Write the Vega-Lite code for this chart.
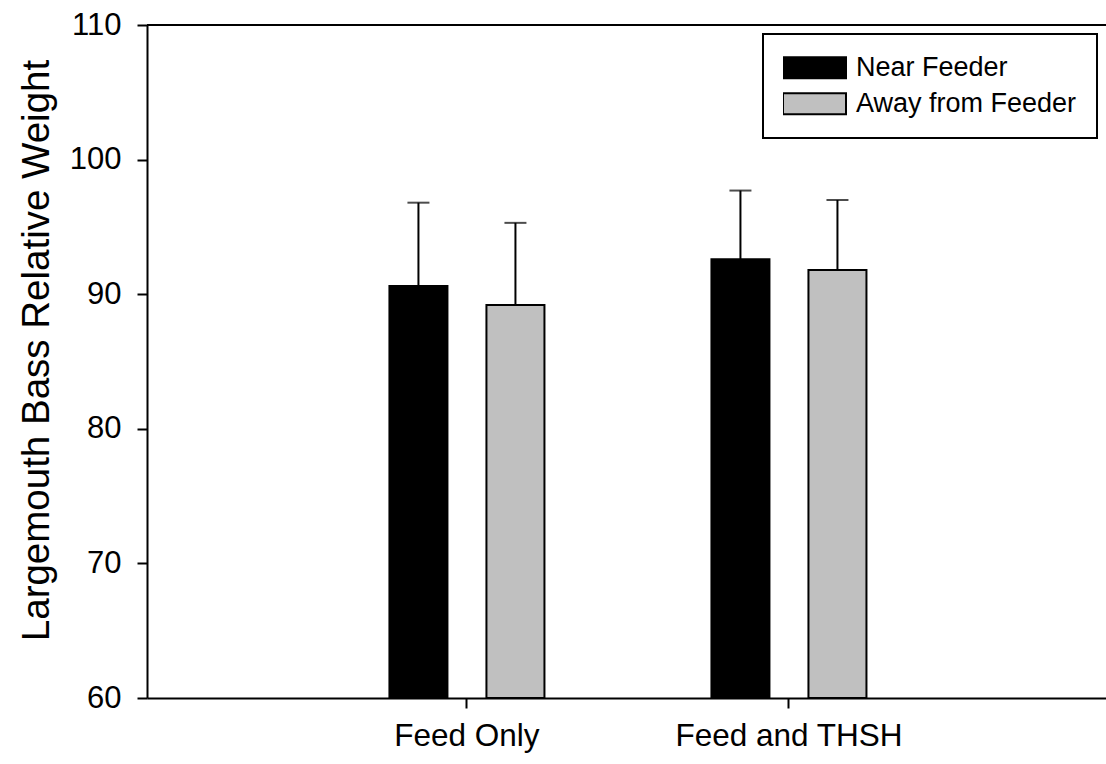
{
  "$schema": "https://vega.github.io/schema/vega-lite/v6.json",
  "width": 959,
  "height": 673,
  "autosize": {"type": "none"},
  "padding": {"left": 147, "top": 25, "right": 0, "bottom": 66},
  "background": "white",
  "config": {
    "view": {"stroke": null},
    "font": "Liberation Sans",
    "legend": {"strokeWidth": 2},
    "axis": {
      "domainColor": "black",
      "domainWidth": 2,
      "tickColor": "black",
      "tickWidth": 2,
      "tickSize": 10,
      "labelColor": "black",
      "titleColor": "black",
      "grid": false
    }
  },
  "data": {
    "values": [
      {"treatment": "Feed Only", "location": "Near Feeder", "mean": 90.6, "upper": 96.8},
      {"treatment": "Feed Only", "location": "Away from Feeder", "mean": 89.2, "upper": 95.3},
      {"treatment": "Feed and THSH", "location": "Near Feeder", "mean": 92.6, "upper": 97.7},
      {"treatment": "Feed and THSH", "location": "Away from Feeder", "mean": 91.8, "upper": 97.0}
    ]
  },
  "layer": [
    {
      "mark": {"type": "bar", "stroke": "black", "strokeWidth": 2},
      "encoding": {
        "x": {
          "field": "treatment",
          "type": "nominal",
          "scale": {"domain": ["Feed Only", "Feed and THSH"], "paddingInner": 0.5186, "paddingOuter": 0.7484, "align": 0.503},
          "axis": {"title": null, "labelFontSize": 31.5, "labelPadding": 12, "labelAngle": 0, "labelLimit": 400}
        },
        "xOffset": {
          "field": "location",
          "type": "nominal",
          "scale": {"domain": ["Near Feeder", "Away from Feeder"], "paddingInner": 0.402, "paddingOuter": 0}
        },
        "y": {
          "field": "mean",
          "type": "quantitative",
          "scale": {"domain": [60, 110], "nice": false, "zero": false},
          "axis": {
            "values": [60, 70, 80, 90, 100, 110],
            "labelFontSize": 31,
            "labelPadding": 16,
            "title": "Largemouth Bass Relative Weight",
            "titleFontSize": 38.5,
            "titleFontWeight": "normal",
            "titlePadding": 13,
            "titleY": 325
          }
        },
        "y2": {"datum": 60},
        "color": {
          "field": "location",
          "type": "nominal",
          "scale": {"domain": ["Near Feeder", "Away from Feeder"], "range": ["#000000", "#c0c0c0"]},
          "legend": {
            "title": null,
            "orient": "none",
            "legendX": 616,
            "legendY": 9,
            "padding": 20,
            "strokeColor": "black",
            "fillColor": "white",
            "symbolType": "M-1,-0.333H1V0.333H-1Z",
            "symbolSize": 3969,
            "symbolStrokeColor": "black",
            "symbolStrokeWidth": 2,
            "symbolOpacity": 1,
            "symbolOffset": -1,
            "clipHeight": 27.5,
            "rowPadding": 7,
            "labelFontSize": 27,
            "labelColor": "black",
            "labelOffset": 9,
            "labelLimit": 400
          }
        }
      }
    },
    {
      "mark": {"type": "rule", "color": "black", "strokeWidth": 2},
      "encoding": {
        "x": {"field": "treatment", "type": "nominal"},
        "xOffset": {"field": "location", "type": "nominal"},
        "y": {"field": "mean", "type": "quantitative"},
        "y2": {"field": "upper"}
      }
    },
    {
      "mark": {"type": "tick", "color": "black", "thickness": 2, "size": 22, "orient": "horizontal"},
      "encoding": {
        "x": {"field": "treatment", "type": "nominal"},
        "xOffset": {"field": "location", "type": "nominal"},
        "y": {"field": "upper", "type": "quantitative"}
      }
    },
    {
      "mark": {"type": "rule", "color": "black", "strokeWidth": 2},
      "encoding": {"y": {"datum": 110, "type": "quantitative"}}
    }
  ]
}
